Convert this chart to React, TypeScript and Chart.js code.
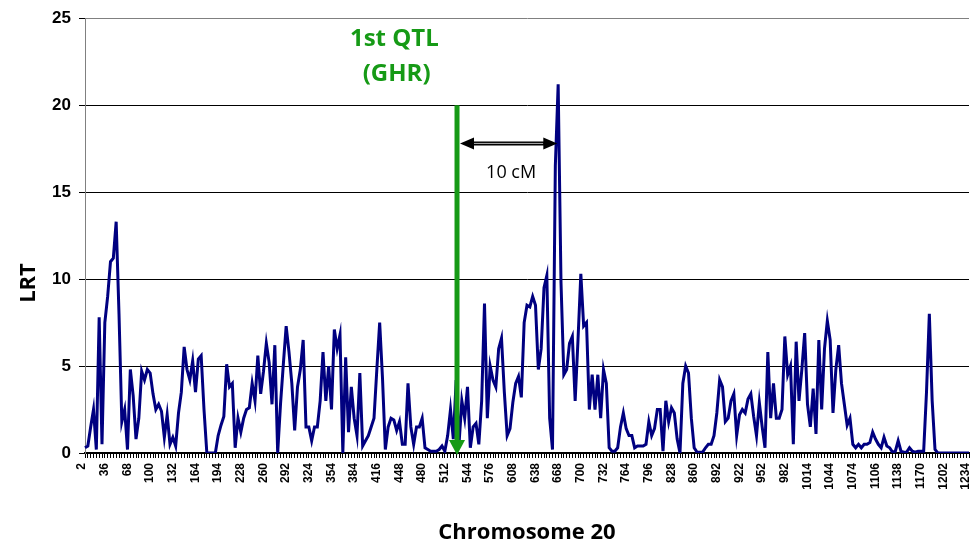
import React, { useEffect, useRef } from 'react';
import { Chart, registerables } from 'chart.js';

Chart.register(...registerables);

// x-axis tick labels (one every POINTS_PER_LABEL categories)
const tickLabels = [
  '2', '36', '68', '100', '132', '164', '194', '228', '260', '292', '324', '354', '384', '416', '448', '480',
  '512', '544', '576', '608', '638', '668', '700', '732', '764', '796', '828', '860', '892', '922', '952',
  '982', '1014', '1044', '1074', '1106', '1138', '1170', '1202', '1234',
];
const POINTS_PER_LABEL = 8;

// LRT profile along chromosome 20
const lrtA = [
  0.3, 0.4, 1.5, 2.5, 0.2, 7.8, 0.5, 7.5, 9.0, 11.0, 11.2, 13.3, 8.0, 1.8, 2.5, 0.2,
  4.8, 3.3, 0.8, 2.0, 4.7, 4.2, 4.8, 4.6, 3.4, 2.5, 2.8, 2.4, 0.9, 2.2, 0.5, 0.9,
  0.4, 2.3, 3.5, 6.1, 4.8, 4.2, 5.3, 3.5, 5.4, 5.6, 2.5, 0, 0, 0, 0, 1.0,
  1.6, 2.1, 5.1, 3.8, 4.0, 0.3, 2.0, 1.2, 2.0, 2.5, 2.6, 4.0, 3.0, 5.6, 3.4, 4.7,
  6.3, 5.2, 2.8, 6.2, 0, 2.8, 5.1, 7.3, 5.8, 4.0, 1.3, 3.8, 4.8, 6.5, 1.5, 1.5,
];
const lrtB = [
  0.7, 1.5, 1.5, 3.0, 5.8, 3.0, 5.0, 2.5, 7.1, 6.0, 6.8, 0, 5.5, 1.2, 3.8, 2.0,
  1.0, 4.6, 0.4, 0.7, 1.0, 1.5, 2.0, 4.8, 7.5, 4.3, 0.2, 1.5, 2.0, 1.9, 1.3, 1.8,
  0.5, 0.5, 4.0, 1.5, 0.5, 1.5, 1.5, 2.0, 0.3, 0.2, 0.1, 0.1, 0.1, 0.2, 0.4, 0.1,
  1.0, 2.5, 0.8, 4.2, 0.5, 3.0, 2.0, 3.8, 0.3, 1.5, 1.7, 0.5, 3.0, 8.6, 2.0, 5.0,
  4.2, 3.8, 6.0, 6.6, 3.5, 1.0, 1.4, 2.9, 4.0, 4.4, 3.2, 7.5, 8.5, 8.4, 9.0, 8.5,
];
const lrtC = [
  4.8, 6.0, 9.5, 10.2, 2.0, 0.2, 16.5, 21.2, 9.8, 4.5, 4.8, 6.3, 6.7, 3.0, 6.5, 10.3,
  7.3, 7.5, 2.5, 4.5, 2.5, 4.5, 2.0, 4.8, 4.0, 0.3, 0.1, 0.1, 0.3, 1.5, 2.3, 1.4,
  1.0, 1.0, 0.3, 0.4, 0.4, 0.4, 0.5, 1.8, 1.0, 1.4, 2.5, 2.5, 0.1, 3.0, 1.8, 2.6,
  2.3, 0.8, 0, 4.0, 5.0, 4.6, 2.0, 0.3, 0.05, 0.05, 0.05, 0.3, 0.5, 0.5, 1.0, 2.3,
  4.2, 3.8, 1.8, 2.0, 3.0, 3.4, 1.0, 2.2, 2.5, 2.3, 3.1, 3.4, 2.1, 1.0, 2.9, 1.5,
];
const lrtD = [
  0.3, 5.8, 2.0, 4.0, 2.0, 2.0, 2.5, 6.7, 4.5, 5.0, 0.5, 6.4, 3.0, 4.8, 6.9, 2.8,
  1.5, 3.7, 1.1, 6.5, 2.5, 6.0, 7.6, 6.5, 2.3, 4.8, 6.2, 4.0, 2.8, 1.6, 2.0, 0.5,
  0.3, 0.5, 0.3, 0.5, 0.5, 0.6, 1.2, 0.8, 0.5, 0.3, 0.9, 0.4, 0.3, 0.05, 0.1, 0.7,
  0.1, 0.05, 0.05, 0.3, 0.1, 0.05, 0.1, 0.1, 0.1, 3.5, 8.0, 3.0, 0.2, 0, 0, 0,
  0, 0, 0, 0, 0, 0, 0, 0, 0,
];
const lrt = [...lrtA, ...lrtB, ...lrtC, ...lrtD];

// y axis
const yMin = 0;
const yMax = 25;
const yStep = 5;

// annotation anchors (category index, LRT value)
const qtlIndex = 131.3;
const qtlTop = 20;
const spanEndIndex = 166.7;
const spanLevel = 17.8;
const qtlText1 = { text: '1st QTL', index: 109.2, value: 23.8 };
const qtlText2 = { text: '(GHR)', index: 110.0, value: 21.8 };
const spanText = { text: '10 cM', index: 150.4, value: 16.1 };

const GREEN = '#169a16';

const annotationPlugin = {
  id: 'qtlAnnotations',
  afterDatasetsDraw(chart: any) {
    const { ctx, scales } = chart;
    const xs = scales.x;
    const ys = scales.y;
    ctx.save();

    // green vertical arrow
    const gx = xs.getPixelForValue(qtlIndex);
    const gTop = ys.getPixelForValue(qtlTop);
    const gTip = ys.getPixelForValue(0) + 2;
    const headH = 15;
    const headW = 8;
    ctx.strokeStyle = GREEN;
    ctx.fillStyle = GREEN;
    ctx.lineWidth = 5;
    ctx.beginPath();
    ctx.moveTo(gx, gTop);
    ctx.lineTo(gx, gTip - headH + 2);
    ctx.stroke();
    ctx.beginPath();
    ctx.moveTo(gx - headW, gTip - headH);
    ctx.lineTo(gx + headW, gTip - headH);
    ctx.lineTo(gx, gTip);
    ctx.closePath();
    ctx.fill();

    // double arrow
    const ax1 = gx + 3;
    const ax2 = xs.getPixelForValue(spanEndIndex);
    const ay = ys.getPixelForValue(spanLevel);
    const aLen = 14;
    const aHalf = 6;
    ctx.strokeStyle = '#000';
    ctx.lineWidth = 4;
    ctx.beginPath();
    ctx.moveTo(ax1 + aLen - 2, ay);
    ctx.lineTo(ax2 - aLen + 2, ay);
    ctx.stroke();
    ctx.strokeStyle = '#b0b0b0';
    ctx.lineWidth = 1;
    ctx.beginPath();
    ctx.moveTo(ax1 + aLen, ay);
    ctx.lineTo(ax2 - aLen, ay);
    ctx.stroke();
    ctx.fillStyle = '#000';
    ctx.beginPath();
    ctx.moveTo(ax1, ay);
    ctx.lineTo(ax1 + aLen, ay - aHalf);
    ctx.lineTo(ax1 + aLen, ay + aHalf);
    ctx.closePath();
    ctx.fill();
    ctx.beginPath();
    ctx.moveTo(ax2, ay);
    ctx.lineTo(ax2 - aLen, ay - aHalf);
    ctx.lineTo(ax2 - aLen, ay + aHalf);
    ctx.closePath();
    ctx.fill();

    // texts
    ctx.textAlign = 'center';
    ctx.textBaseline = 'middle';
    ctx.fillStyle = GREEN;
    ctx.font = "bold 24px 'Open Sans', sans-serif";
    for (const t of [qtlText1, qtlText2]) {
      ctx.fillText(t.text, xs.getPixelForValue(t.index), ys.getPixelForValue(t.value));
    }
    ctx.fillStyle = '#000';
    ctx.font = "18px 'Open Sans', sans-serif";
    ctx.fillText(spanText.text, xs.getPixelForValue(spanText.index), ys.getPixelForValue(spanText.value));

    // axis titles
    ctx.font = "bold 22px 'Open Sans', sans-serif";
    ctx.fillText('Chromosome 20', 527, 533);
    ctx.translate(29, 283);
    ctx.rotate(-Math.PI / 2);
    ctx.fillText('LRT', 0, 0);
    ctx.restore();
  },
};

export default function App() {
  const ref = useRef<HTMLCanvasElement>(null);
  useEffect(() => {
    document.body.style.margin = '0';
    const categories = lrt.map((_, i) => (i % POINTS_PER_LABEL === 0 ? tickLabels[i / POINTS_PER_LABEL] ?? '' : ''));
    Chart.defaults.font.family = "'Liberation Sans', Arial, sans-serif";
    const chart = new Chart(ref.current as HTMLCanvasElement, {
      type: 'line',
      data: {
        labels: categories,
        datasets: [
          {
            data: lrt,
            borderColor: '#000080',
            borderWidth: 3,
            pointRadius: 0,
            fill: false,
            tension: 0,
          },
        ],
      },
      options: {
        responsive: false,
        animation: false,
        devicePixelRatio: 1,
        layout: { padding: { top: 18, right: 1, left: 0, bottom: 0 } },
        plugins: { legend: { display: false }, tooltip: { enabled: false } },
        scales: {
          x: {
            type: 'category',
            offset: false,
            grid: { drawOnChartArea: false, drawTicks: true, tickLength: 5, tickColor: '#000', lineWidth: 1 },
            border: { display: true, color: '#000', width: 2 },
            ticks: {
              autoSkip: false,
              maxRotation: 90,
              minRotation: 90,
              padding: 5,
              labelOffset: -3,
              color: '#000',
              font: { size: 12, weight: 'bold' },
              callback: (_v: any, i: number) => categories[i],
            },
            afterFit: (s: any) => {
              s.height = 95;
              s.paddingLeft = 0;
              s.paddingRight = 0;
            },
          },
          y: {
            min: yMin,
            max: yMax,
            ticks: { stepSize: yStep, padding: 8, color: '#000', font: { size: 17, weight: 'bold' } },
            grid: {
              color: (c: any) => (c.tick && c.tick.value === yMax ? '#808080' : '#000'),
              tickColor: '#000',
              tickLength: 6,
              lineWidth: 1,
            },
            border: { display: true, color: '#808080', width: 1 },
            afterFit: (s: any) => {
              s.width = 85;
            },
          },
        },
      },
      plugins: [annotationPlugin],
    } as any);
    return () => chart.destroy();
  }, []);
  return (
    <div style={{ width: 970, height: 548 }}>
      <canvas ref={ref} width={970} height={548} style={{ display: 'block' }} />
    </div>
  );
}
